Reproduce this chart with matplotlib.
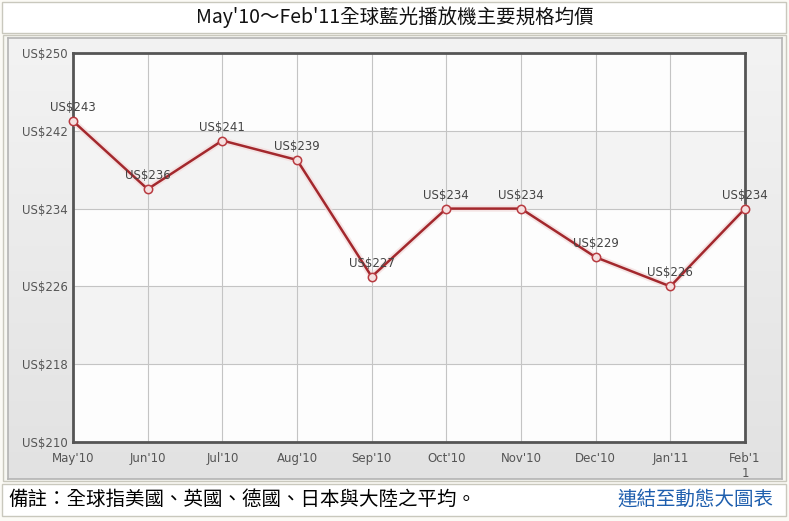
import numpy as np
import matplotlib.pyplot as plt
from matplotlib.patches import Rectangle
from matplotlib.colors import LinearSegmentedColormap
import matplotlib.patheffects as pe

plt.rcParams['font.family'] = ['Noto Sans CJK TC', 'DejaVu Sans']

# data
months = ["May'10", "Jun'10", "Jul'10", "Aug'10", "Sep'10", "Oct'10",
          "Nov'10", "Dec'10", "Jan'11", "Feb'1\n1"]
prices = [243, 236, 241, 239, 227, 234, 234, 229, 226, 234]
yticks = [210, 218, 226, 234, 242, 250]

title = "May'10～Feb'11全球藍光播放機主要規格均價"
note = "備註：全球指美國、英國、德國、日本與大陸之平均。"
link = "連結至動態大圖表"

W, H = 789, 521
fig = plt.figure(figsize=(W / 100, H / 100), dpi=100)
fig.patch.set_facecolor('#fbfaf5')

def box(x0, y0, x1, y1, fc, ec, lw=1.0, z=0):
    # pixel coords, y measured from top
    r = Rectangle((x0 / W, 1 - y1 / H), (x1 - x0) / W, (y1 - y0) / H,
                  transform=fig.transFigure, facecolor=fc, edgecolor=ec,
                  linewidth=lw, zorder=z)
    fig.patches.append(r)

# title box, chart panel, note box
box(2, 2, 786, 33, 'white', '#c9c8bd')
box(3, 35, 786, 481, '#f7f7f2', '#c9c8bd')
box(2, 484, 786, 516, 'white', '#c9c8bd')

# grey panel behind the plot, with a soft vertical gradient
bg = fig.add_axes([8 / W, 1 - 479 / H, 774 / W, 441 / H], zorder=1)
grad = np.linspace(0, 1, 256).reshape(-1, 1)
cmap = LinearSegmentedColormap.from_list('g', ['#f3f3f3', '#e2e2e2'])
bg.imshow(grad, aspect='auto', cmap=cmap, extent=[0, 1, 0, 1], origin='upper')
bg.set_xticks([])
bg.set_yticks([])
for s in bg.spines.values():
    s.set_color('#b4b4b4')
    s.set_linewidth(1.2)

fig.text(0.5, 1 - 17 / H, title, ha='center', va='center', fontsize=14, color='#111111')
fig.text(8 / W, 1 - 499 / H, note, ha='left', va='center', fontsize=14, color='black')
fig.text(773 / W, 1 - 499 / H, link, ha='right', va='center', fontsize=14, color='#1f5fae')

ax = fig.add_axes([73 / W, 1 - 442 / H, 672 / W, 389 / H], zorder=2)
x = np.arange(len(months))
ax.set_xlim(0, len(months) - 1)
ax.set_ylim(yticks[0], yticks[-1])

# alternating bands
for i in range(len(yticks) - 1):
    fc = '#fdfdfd' if i % 2 == 0 else '#f3f3f3'
    ax.axhspan(yticks[i], yticks[i + 1], facecolor=fc, zorder=0)

ax.set_xticks(x)
ax.set_xticklabels(months, fontsize=8.5, color='#555555', family='DejaVu Sans', va='top')
ax.set_yticks(yticks)
ax.set_yticklabels([f'US${v}' for v in yticks], fontsize=8.5, color='#555555', family='DejaVu Sans')
ax.tick_params(length=0, pad=4)
ax.tick_params(axis='x', pad=7)
ax.grid(True, color='#c4c4c4', linewidth=0.8, zorder=1)
for s in ax.spines.values():
    s.set_color('#555555')
    s.set_linewidth(2)

ax.plot(x, prices, color='#a3282d', linewidth=1.8, zorder=4, clip_on=False,
        path_effects=[pe.Stroke(linewidth=4.5, foreground='#f3dcdc', alpha=0.7), pe.Normal()])
ax.plot(x, prices, linestyle='none', marker='o', markersize=6,
        markerfacecolor='#f5e0e0', markeredgecolor='#b83a40', markeredgewidth=1.1,
        zorder=5, clip_on=False)

for xi, v in zip(x, prices):
    ax.annotate(f'US${v}', (xi, v), xytext=(0, 5), textcoords='offset points',
                ha='center', va='bottom', fontsize=8.5, color='#444444',
                family='DejaVu Sans', zorder=6, annotation_clip=False)

fig.savefig('out.png', dpi=100)
